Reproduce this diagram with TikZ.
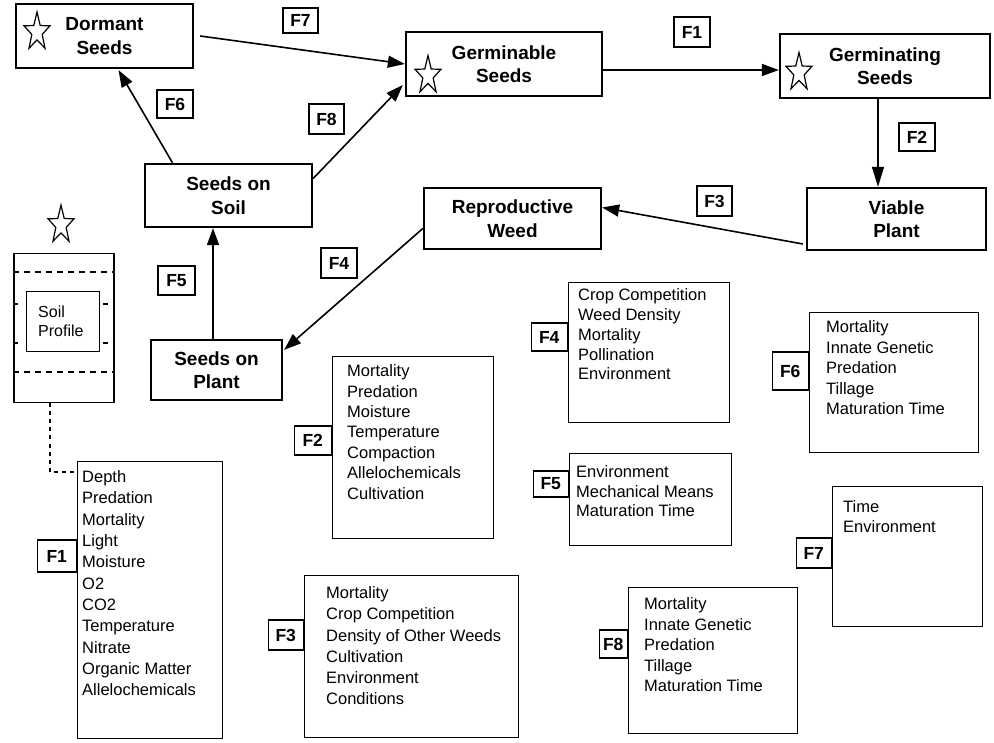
\documentclass[tikz,border=0pt]{standalone}
\usepackage{fontspec}
\setmainfont{Liberation Sans}
\usetikzlibrary{calc,arrows.meta}

\begin{document}
\begin{tikzpicture}[x=1pt,y=-1pt,
  wh/.style 2 args={minimum width=#1pt, minimum height=#2pt},
  mainbox/.style={draw, line width=2.3pt, align=center, inner sep=0pt,
    font=\bfseries\fontsize{19}{23.5}\selectfont},
  flowtag/.style={draw, line width=1.5pt, inner sep=0pt, fill=white,
    font=\bfseries\fontsize{17.5}{18}\selectfont},
  listbox/.style={draw, line width=1.3pt, inner sep=0pt, anchor=north west},
  listtext/.style={anchor=north west, align=left, inner sep=0pt,
    font=\fontsize{16.5}{20.5}\selectfont},
  flow/.style={line width=1.6pt, -{Triangle[length=17pt,width=12pt]}},
  seedstar/.pic={
    \draw[line width=1.2pt, line join=miter, miter limit=10]
      plot[samples at={0,...,9}]
      ({0.68*(mod(\x,2)==0 ? 20 : 8)*cos(90+36*\x)},
       {-(mod(\x,2)==0 ? 20 : 8)*sin(90+36*\x)}) -- cycle;
  }
]
\fill[white] (0,0) rectangle (994,743);
\useasboundingbox (0,0) rectangle (994,743);

% ---- stages of the seed life cycle ----
\node[mainbox, wh={177}{64}] (dormant) at (104.5,36)  {Dormant\\Seeds};
\node[mainbox, wh={196}{64}] (germ)    at (504,64)    {Germinable\\Seeds};
\node[mainbox, wh={210}{64}] (gting)   at (885,66)    {Germinating\\Seeds};
\node[mainbox, wh={179}{62}] (viable)  at (896.5,219) {Viable\\Plant};
\node[mainbox, wh={177}{61}] (repro)   at (512.5,218.5) {Reproductive\\Weed};
\node[mainbox, wh={167}{63}] (soil)    at (228.5,195.5) {Seeds on\\Soil};
\node[mainbox, wh={131}{60}] (plant)   at (216.5,370) {Seeds on\\Plant};

\pic at (37,32)     {seedstar};
\pic at (428,75.5)  {seedstar};
\pic at (799,72.5)  {seedstar};

% ---- transitions ----
\draw[flow] ($(dormant.east)+(6,0)$) -- (germ.west);
\draw[flow] ($(soil.east)+(0,-17)$) -- ($(germ.west)+(-2,21)$);
\draw[flow] ($(germ.east)+(0,6)$) -- ($(gting.west)+(0,4)$);
\coordinate (f2s) at ($(gting.south)+(-7,0)$);
\draw[line width=1.4pt, -{Triangle[length=20pt,width=12pt]}] (f2s) -- (f2s |- viable.north);
\draw[flow] ($(viable.west)+(-3,25)$) -- ($(repro.east)+(0,-11)$);
\draw[flow] ($(repro.west)+(0,10)$) -- ($(plant.north east)+(1,11)$);
\coordinate (f5s) at ($(plant.north)+(-3.5,0)$);
\draw[flow] (f5s) -- (f5s |- soil.south);
\draw[flow] ($(soil.north)+(-56,0)$) -- ($(dormant.south)+(14,1)$);

% ---- transition labels ----
\node[flowtag, wh={35}{25}] (l7) at (300.5,20.5) {F7};
\node[flowtag, wh={36}{30}] (l1) at (692,32)     {F1};
\node[flowtag, wh={36}{28}] (l6) at (175,104)    {F6};
\node[flowtag, wh={35}{30}] (l8) at (326.5,119)  {F8};
\node[flowtag, wh={36}{28}] (l2) at (917,137)    {F2};
\node[flowtag, wh={35}{30}] (l3) at (714.5,201)  {F3};
\node[flowtag, wh={36}{30}] (l4) at (339,263)    {F4};
\node[flowtag, wh={37}{29}] (l5) at (176.5,280.5) {F5};

% ---- soil profile ----
\pic at (61,225) {seedstar};
\node[listbox, line width=1.5pt, wh={100}{149}] (profile) at (13,253) {};
\draw[line width=1.2pt, dash pattern=on 6pt off 5pt] (13,272) -- (113,272);
\draw[line width=1.2pt, dash pattern=on 6pt off 5pt] (13,372) -- (113,372);
\foreach \yy in {304,343} {
  \draw[line width=1.2pt] (13,\yy) -- (18,\yy);
  \draw[line width=1.2pt] (103,\yy) -- (108,\yy);
}
\node[listbox, wh={73}{60}] (soilbox) at (26,291) {};
\node[listtext, font=\fontsize{16}{19}\selectfont] (soiltext) at (38,305.5) {Soil\\Profile};

% ---- factor lists ----
\node[listbox, wh={145}{277}] (b1) at (77,461) {};
\node[listbox, wh={161}{182}] (b2) at (332,356) {};
\node[listbox, wh={214}{162}] (b3) at (304,575) {};
\node[listbox, wh={161}{140}] (b4) at (568,282) {};
\node[listbox, wh={162}{92}]  (b5) at (569,453) {};
\node[listbox, wh={169}{140}] (b6) at (809,312) {};
\node[listbox, wh={150}{140}] (b7) at (832,486) {};
\node[listbox, wh={169}{146}] (b8) at (628,587) {};

\draw[line width=1.2pt, dash pattern=on 4pt off 4pt]
  ($(profile.south west)+(37,0)$) |- ($(b1.north west)+(0,11)$);

\node[flowtag, anchor=east, wh={39}{32}] (g1) at (77,556)    {F1};
\node[flowtag, anchor=east, wh={37}{29}] (g2) at (332,440.5) {F2};
\node[flowtag, anchor=east, wh={35}{30}] (g3) at (304,635)   {F3};
\node[flowtag, anchor=east, wh={36}{28}] (g4) at (568,337)   {F4};
\node[flowtag, anchor=east, wh={35}{26}] (g5) at (569,484)   {F5};
\node[flowtag, anchor=east, wh={36}{38}] (g6) at (809,371)   {F6};
\node[flowtag, anchor=east, wh={35}{30}] (g7) at (832,553)   {F7};
\node[flowtag, anchor=east, wh={28}{28}] (g8) at (628,644)   {F8};

\node[listtext, font=\fontsize{16.5}{21.3}\selectfont] (t1) at (82,470.5)
  {Depth\\Predation\\Mortality\\Light\\Moisture\\O2\\CO2\\Temperature\\Nitrate\\Organic Matter\\Allelochemicals};
\node[listtext, font=\fontsize{16.5}{20.4}\selectfont] (t2) at (347,364.5)
  {Mortality\\Predation\\Moisture\\Temperature\\Compaction\\Allelochemicals\\Cultivation};
\node[listtext, font=\fontsize{16.5}{21.2}\selectfont] (t3) at (326,586.5)
  {Mortality\\Crop Competition\\Density of Other Weeds\\Cultivation\\Environment\\Conditions};
\node[listtext, font=\fontsize{16.5}{19.8}\selectfont] (t4) at (578,288.5)
  {Crop Competition\\Weed Density\\Mortality\\Pollination\\Environment};
\node[listtext, font=\fontsize{16.5}{19.5}\selectfont] (t5) at (576,465.5)
  {Environment\\Mechanical Means\\Maturation Time};
\node[listtext] (t6) at (826,320.5)
  {Mortality\\Innate Genetic\\Predation\\Tillage\\Maturation Time};
\node[listtext, font=\fontsize{16.5}{20}\selectfont] (t7) at (843,500.5)
  {Time\\Environment};
\node[listtext] (t8) at (644,597.5)
  {Mortality\\Innate Genetic\\Predation\\Tillage\\Maturation Time};
\end{tikzpicture}
\end{document}
